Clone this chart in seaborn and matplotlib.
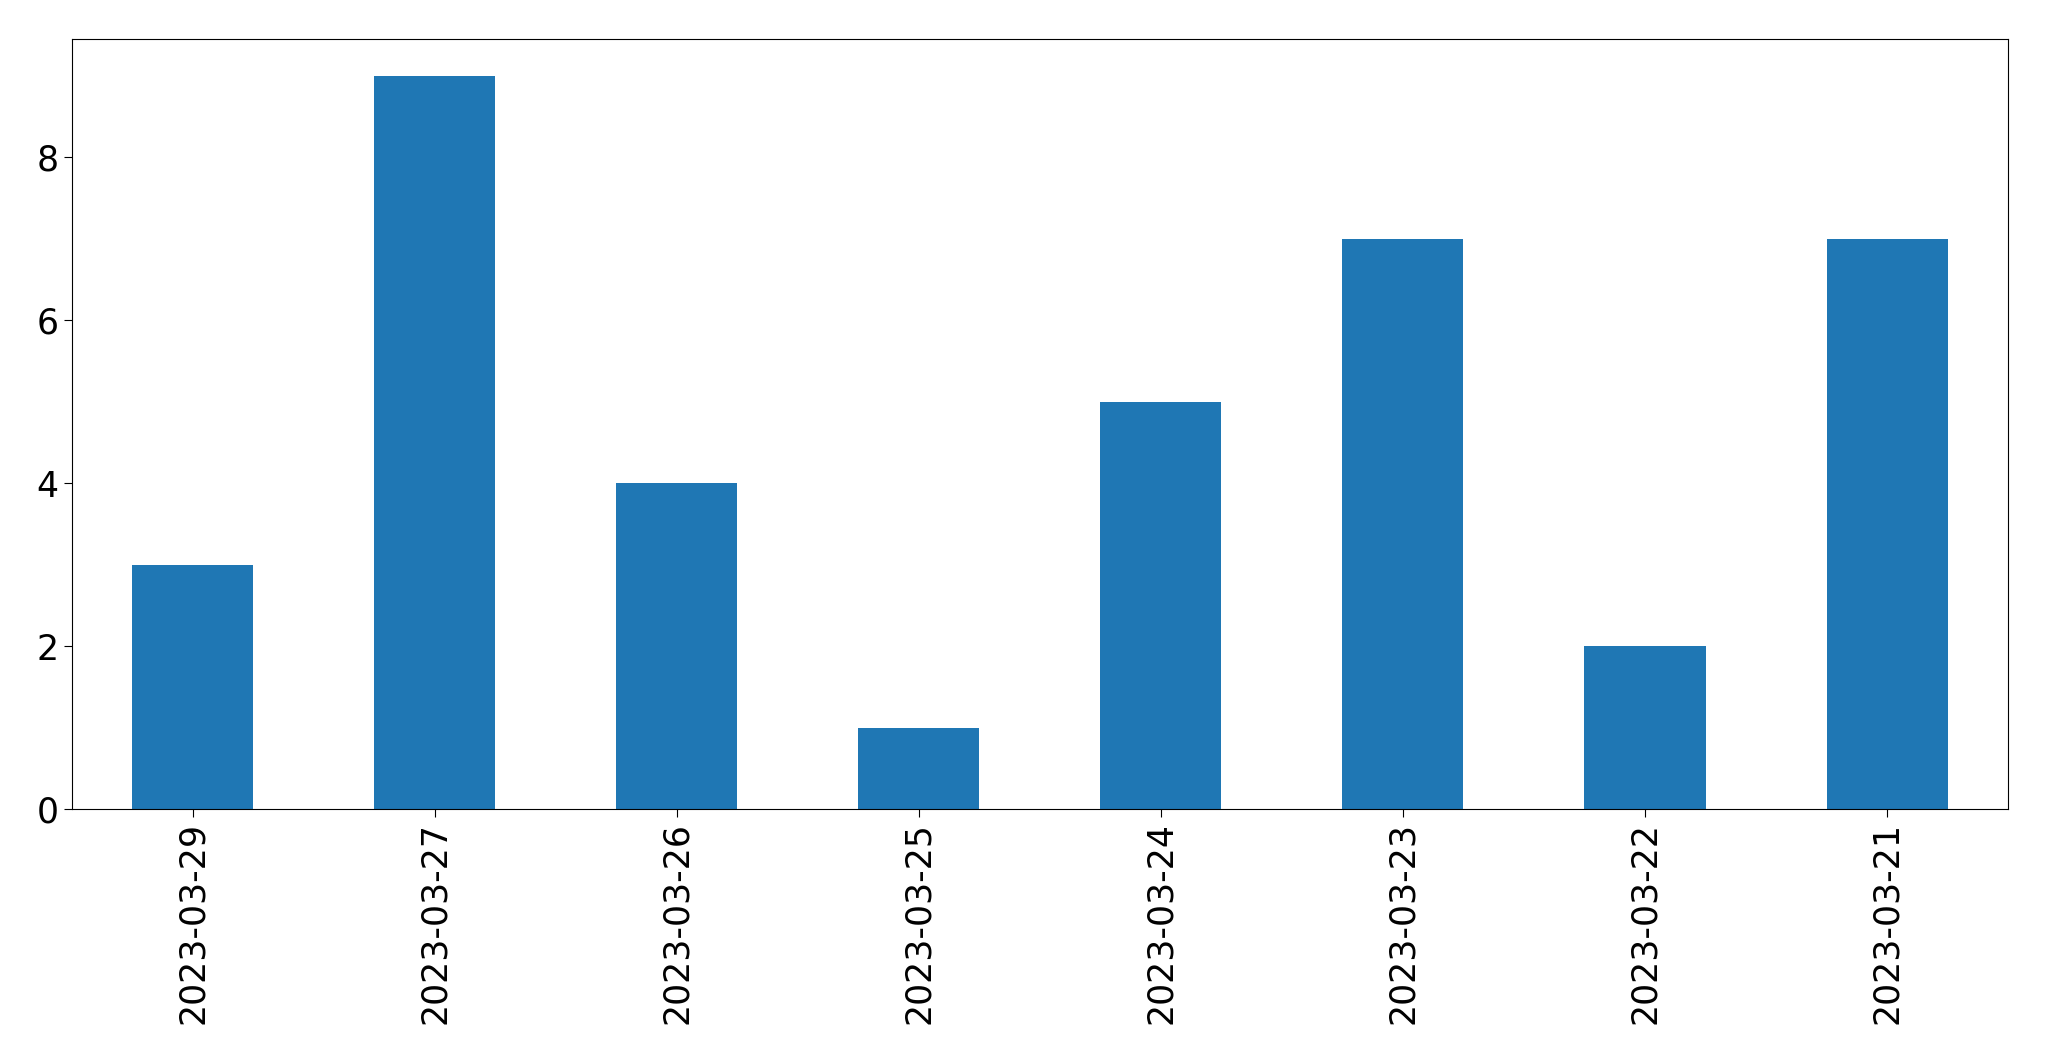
import matplotlib
matplotlib.use('Agg')
import matplotlib.pyplot as plt
import pandas as pd
import seaborn as sns

# tanggal & jumlah
tanggal = ['2023-03-29', '2023-03-27', '2023-03-26', '2023-03-25',
           '2023-03-24', '2023-03-23', '2023-03-22', '2023-03-21']
jumlah = [3, 9, 4, 1, 5, 7, 2, 7]

df = pd.DataFrame({'tanggal': tanggal, 'jumlah': jumlah})

fig = plt.figure(figsize=(20.49, 10.61), dpi=100)
ax = fig.add_axes([0.0351, 0.2375, 0.9449, 0.7255])

sns.barplot(data=df, x='tanggal', y='jumlah', order=tanggal, color='#1f77b4',
            saturation=1, width=0.5, linewidth=0, ax=ax)

ax.set_xlim(-0.5, len(tanggal) - 0.5)
ax.set_ylim(0, max(jumlah) * 1.05)
ax.set_xlabel('')
ax.set_ylabel('')
ax.tick_params(axis='both', labelsize=25, length=6)
ax.tick_params(axis='x', labelrotation=90)

fig.savefig('out.png', dpi=100)
